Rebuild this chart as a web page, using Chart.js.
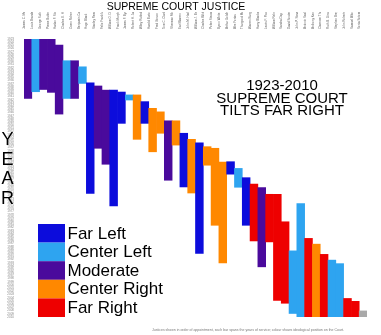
<!DOCTYPE html>
<html>
<head>
<meta charset="utf-8">
<script src="https://cdn.jsdelivr.net/npm/chart.js@4.4.1/dist/chart.umd.min.js"></script>
<style>
html, body { margin: 0; padding: 0; background: #fff; }
</style>
</head>
<body>
<canvas id="courtChart" width="381" height="335"></canvas>
<script>
// justices in the order they stand on the chart
const justices = [
    "James C. McReynolds", "Louis Brandeis", "George Sutherland", "Pierce Butler",
    "Harlan F. Stone", "Charles E. Hughes", "Owen Roberts", "Benjamin Cardozo",
    "Hugo Black", "Stanley Reed", "Felix Frankfurter", "William O. Douglas",
    "Frank Murphy", "James F. Byrnes", "Robert H. Jackson", "Wiley Rutledge",
    "Harold Burton", "Fred Vinson", "Tom C. Clark", "Sherman Minton",
    "Earl Warren", "John M. Harlan", "William J. Brennan", "Charles Whittaker",
    "Potter Stewart", "Byron White", "Arthur Goldberg", "Abe Fortas",
    "Thurgood Marshall", "Warren Burger", "Harry Blackmun", "Lewis F. Powell",
    "William Rehnquist", "Sandra Day O'Connor", "David Souter", "John P. Stevens",
    "Antonin Scalia", "Anthony Kennedy", "Clarence Thomas", "Ruth B. Ginsburg",
    "Stephen Breyer", "John Roberts", "Samuel Alito", "Sonia Sotomayor"
];

const startYears = [
    1923, 1923, 1923, 1923,
    1924.9, 1929.8, 1929.8, 1931.7,
    1936.7, 1937.7, 1939.0, 1939.0,
    1939.6, 1940.5, 1940.5, 1942.6,
    1944.7, 1945.8, 1948.6, 1948.6,
    1952.5, 1954.4, 1955.5, 1956.7,
    1957.2, 1961.5, 1961.4, 1963.5,
    1966.4, 1968.4, 1969.5, 1971.6,
    1971.6, 1980.2, 1989.3, 1974.5,
    1985.4, 1987.2, 1990.4, 1992.2,
    1993.3, 2004.2, 2005.1, 2008.1
];

const endYears = [
    1941.6, 1939.5, 1938.8, 1939.7,
    1946.5, 1941.6, 1941.6, 1936.9,
    1971.3, 1957.2, 1962.2, 1975.2,
    1949.4, 1942.1, 1954.4, 1949.4,
    1958.3, 1952.5, 1967.2, 1956.2,
    1969.3, 1971.2, 1990.1, 1962.5,
    1981.3, 1993.1, 1965.3, 1969.4,
    1981.3, 1986.2, 1994.3, 1986.5,
    2004.8, 2005.7, 2008.9, 2010,
    2010, 2010, 2010, 2010,
    2010, 2010, 2010, 2010
];

const leanings = [
    "Moderate", "Center Left", "Moderate", "Moderate",
    "Moderate", "Center Left", "Moderate", "Center Left",
    "Far Left", "Moderate", "Moderate", "Far Left",
    "Far Left", "Center Left", "Center Right", "Far Left",
    "Center Right", "Center Right", "Moderate", "Center Right",
    "Far Left", "Center Right", "Far Left", "Center Right",
    "Center Right", "Center Right", "Far Left", "Center Left",
    "Far Left", "Far Right", "Moderate", "Far Right",
    "Far Right", "Far Right", "Center Left", "Center Left",
    "Far Right", "Center Right", "Far Right", "Center Left",
    "Center Left", "Far Right", "Far Right", "Unrated"
];

const leanCategories = ["Far Left", "Center Left", "Moderate", "Center Right", "Far Right"];
const leanColors = ["#0c0cdc", "#2ea4f0", "#4a0a9c", "#ff8800", "#ee0000"];
const unratedColor = "#a9a9a9";

const firstYear = 1923;
const lastYear = 2010;

function colorFor(lean)
{
    let i = leanCategories.indexOf(lean);
    return i >= 0 ? leanColors[i] : unratedColor;
}

const FONT = "'Liberation Sans', Arial, sans-serif";

// headings, legend and notes drawn over the chart
const overlayText = {
    id: "overlayText",
    afterDraw(chart)
    {
        let ctx = chart.ctx;
        ctx.save();
        ctx.fillStyle = "#000";
        ctx.textBaseline = "alphabetic";

        ctx.textAlign = "center";
        ctx.font = "10.5px " + FONT;
        ctx.fillText("SUPREME COURT JUSTICE", 176, 9.5);

        ctx.font = "15px " + FONT;
        ctx.fillText(firstYear + "-" + lastYear, 282, 90);
        ctx.fillText("SUPREME COURT", 282, 102.5);
        ctx.fillText("TILTS FAR RIGHT", 282, 115);

        ctx.font = "18px " + FONT;
        let letters = ["Y", "E", "A", "R"];
        letters.forEach((ch, i) => {
            ctx.fillText(ch, 7.5, 145 + i * 19.5);
        });

        // legend
        ctx.textAlign = "left";
        ctx.textBaseline = "middle";
        ctx.font = "17px " + FONT;
        leanCategories.forEach((name, i) => {
            let top = 224 + i * 18.6;
            ctx.fillStyle = leanColors[i];
            ctx.fillRect(38, top, 27, 18.6);
            ctx.fillStyle = "#000";
            ctx.fillText(name, 67.5, top + 10);
        });

        ctx.textAlign = "center";
        ctx.fillStyle = "#777";
        ctx.font = "3.5px " + FONT;
        ctx.fillText("Justices shown in order of appointment, each bar spans the years of service; colour shows ideological position on the Court.", 248, 330);

        ctx.restore();
    }
};

new Chart(
    document.getElementById("courtChart"),
    {
        type: "bar",
        data: {
            labels: justices,
            datasets: [{
                data: justices.map((n, i) => [startYears[i], endYears[i]]),
                backgroundColor: leanings.map(colorFor),
                borderWidth: 0,
                categoryPercentage: 1,
                barPercentage: 1
            }]
        },
        options: {
            responsive: false,
            animation: false,
            layout: {
                padding: { left: 2, right: 14, top: 12, bottom: 18 }
            },
            plugins: {
                legend: { display: false },
                tooltip: { enabled: false },
                title: { display: false }
            },
            scales: {
                x: {
                    position: "top",
                    grid: { display: false },
                    border: { display: false },
                    ticks: {
                        autoSkip: false,
                        minRotation: 90,
                        maxRotation: 90,
                        padding: 2,
                        color: "#666",
                        font: { size: 3, family: FONT }
                    },
                    afterFit(scale) { scale.height = 27; }
                },
                y: {
                    reverse: true,
                    min: firstYear,
                    max: lastYear,
                    grid: { display: false },
                    border: { display: false },
                    ticks: {
                        stepSize: 1,
                        autoSkip: false,
                        padding: 2,
                        color: "#888",
                        font: { size: 3, family: FONT },
                        callback: v => String(v)
                    },
                    afterFit(scale) { scale.width = 22; }
                }
            }
        },
        plugins: [overlayText]
    }
);
</script>
</body>
</html>
